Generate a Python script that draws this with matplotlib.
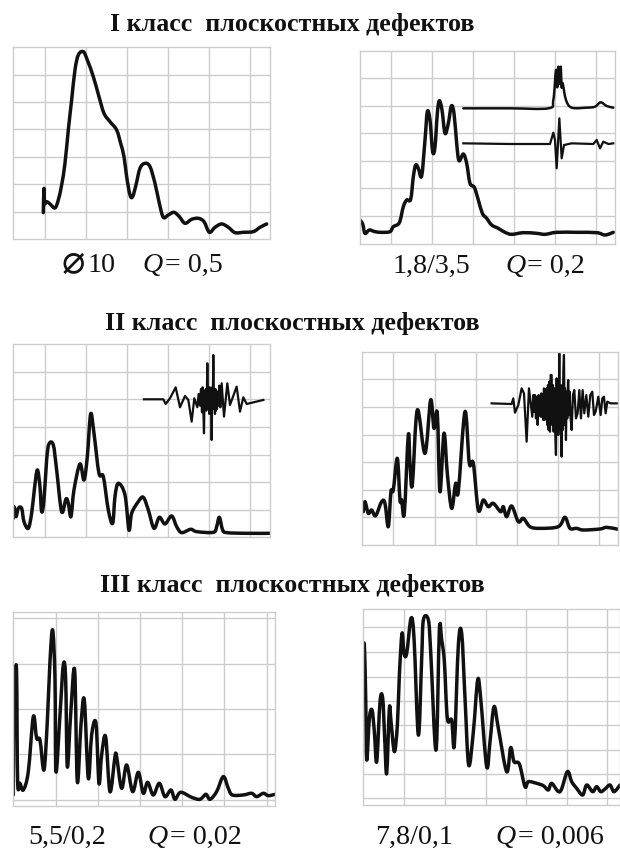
import matplotlib
matplotlib.use("Agg")
import matplotlib.pyplot as plt
from matplotlib.path import Path
from matplotlib.patches import PathPatch

W, H = 620, 851
SERIF = ["Liberation Serif", "DejaVu Sans"]

# Step 1: Values (arbitrary amplitude / time units per panel)
p1_x = [90,92,94,100,110,125,135,145,155,165,175,185,195,210,222,240,257,272,290,310,322,332,340,350,358,368,380,395,410,425,438,450,465,482,498,515,535,555,572,588,605,625,645,665,690,720,740,760]
p1_y = [80,153,108,113,106,94,118,163,228,328,418,508,553,563,538,488,428,378,353,328,288,248,188,133,128,163,213,228,218,168,108,66,73,81,68,48,60,63,53,21,36,46,36,20,21,23,36,46]

p2_x = [0,8,15,28,45,65,90,100,118,130,140,152,160,167,175,185,195,202,210,218,225,232,238,246,255,265,274,282,290,297,310,320,330,343,355,367,380,395,415,435,455,490,530,555,590,650,710,735,760]
p2_y = [72,60,32,42,37,35,37,52,64,112,132,134,202,237,227,204,312,397,372,277,292,392,430,402,332,362,414,392,302,250,270,242,182,170,132,92,77,57,47,35,29,34,32,29,35,35,34,27,35]
p2a_x = [310,450,565,580,588,592,595,599,602,605,608,618,635,680,705,722,740,760]
p2a_y = [407,407,407,432,522,470,532,480,532,470,482,432,409,409,412,425,414,409]
p2b_x = [310,450,570,580,585,590,598,605,612,635,700,710,720,730,745,760]
p2b_y = [302,300,300,334,312,227,377,257,297,302,300,312,287,307,300,302]

p3_x = [0,2,8,15,25,32,45,55,63,72,80,85,92,100,107,120,130,145,158,165,173,182,200,212,222,232,242,257,270,285,298,305,315,335,347,355,375,390,405,422,438,455,475,490,505,532,550,600,610,618,628,640,700,770]
p3_y = [57,92,62,87,87,47,27,72,142,202,152,77,112,232,280,277,202,77,115,102,62,142,220,172,242,370,312,192,182,82,42,122,162,127,22,72,107,120,82,27,60,40,64,32,14,24,17,15,32,60,22,14,12,12]
p3a_x = [392,450,457,470,487,500,515,525,535,543,552,556,560,563,566,568,570,572,574,576,578,579,581,582,584,586,588,589,591,592,594,595,597,598,600,602,603,605,606,608,609,611,612,615,618,621,625,632,642,650,670,680,690,700,750]
p3a_y = [414,414,400,417,450,390,424,412,347,417,390,430,395,445,375,450,385,312,440,385,445,380,450,522,385,445,370,450,380,445,375,292,450,385,547,385,440,370,445,380,440,385,435,395,455,390,462,362,462,397,452,377,420,400,412]

p4_x = [3,8,18,28,40,58,68,78,86,93,105,113,118,126,138,143,150,165,188,205,215,225,233,245,255,268,280,288,308,321,333,348,363,378,393,415,423,433,448,468,483,503,533,588,608,623,643,663,713,733,768]
p4_y = [100,130,95,105,88,130,125,55,160,165,260,135,135,95,330,245,180,405,275,435,350,395,160,335,215,110,185,160,400,245,245,105,135,115,125,100,115,85,117,70,80,55,50,55,83,50,50,45,48,53,47]
p4a_x = [388,448,453,458,468,478,485,493,500,510,513,516,518,521,524,526,529,531,533,535,537,539,541,543,545,547,549,551,553,555,557,559,561,563,565,568,570,572,574,576,578,581,583,585,587,588,590,591,593,594,596,598,600,601,603,605,607,608,610,611,613,615,617,618,620,622,625,628,632,636,641,646,651,656,661,666,672,678,684,690,695,700,708,715,720,725,730,735,745,768]
p4a_y = [425,423,440,397,420,470,455,310,470,385,450,400,450,380,445,360,450,395,440,385,455,385,450,375,470,375,460,390,470,360,480,345,490,340,510,510,360,480,340,470,360,270,500,350,490,330,470,575,350,480,350,265,480,345,520,570,360,470,380,315,460,380,490,495,390,460,380,345,450,465,380,395,465,380,465,395,450,385,450,460,390,400,445,390,440,445,395,430,425,425]

p5_x = [0,2,6,10,13,20,30,45,60,70,80,92,102,110,118,125,128,140,150,157,162,172,184,192,203,213,225,235,248,257,265,277,290,305,310,325,340,358,375,390,403,420,438,455,473,485,502,535,560,578,590,610,630,645,657,690,715,730,750,765,786]
p5_y = [34,324,404,394,74,69,49,104,269,204,199,109,254,434,529,384,104,274,424,384,119,274,409,74,244,319,84,214,249,69,154,209,44,149,149,54,124,44,102,39,72,34,69,29,49,21,42,27,21,36,21,44,89,54,34,34,39,29,39,32,36]

p6_x = [2,5,9,12,20,28,35,42,52,60,66,72,80,85,95,104,110,118,124,132,145,154,167,177,182,197,204,220,230,237,245,254,267,275,287,297,307,318,332,345,354,372,382,394,407,432,444,454,470,487,497,522,542,557,567,592,614,627,642,660,672,690,702,714,727,742,754,772]
p6_y = [450,480,320,135,260,285,220,130,310,320,200,95,290,250,160,240,390,515,455,455,560,500,210,440,555,555,460,165,525,495,430,260,255,180,480,515,320,120,220,375,320,115,190,295,230,100,172,130,123,55,70,65,58,45,65,40,100,70,50,30,60,40,55,40,48,60,40,60]

titles = ["I класс  плоскостных дефектов", "II класс  плоскостных дефектов", "III класс  плоскостных дефектов"]
sizes = ["10", "1,8/3,5", "5,5/0,2", "7,8/0,1"]
q_values = ["= 0,5", "= 0,2", "= 0,02", "= 0,006"]

# Step 2: Panels: pixel box, grid positions, curves
panels = [
    dict(box=(13.3, 47.3, 256.7, 192), xlim=770, ylim=576,
         vg=[95,218,340,463,586,710], hg=[82,165,247,330,411,494],
         main=(p1_x, p1_y), extra=[], burst=[]),
    dict(box=(360, 51, 255, 193), xlim=765, ylim=579,
         vg=[93,216,340,463,585,708], hg=[85,167,250,332,415,497],
         main=(p2_x, p2_y), extra=[(p2a_x, p2a_y)], burst=[(p2b_x, p2b_y)]),
    dict(box=(13.3, 344.3, 256.7, 193), xlim=770, ylim=579,
         vg=[96,218,340,463,586,710], hg=[82,165,247,332,414,497],
         main=(p3_x, p3_y), extra=[], burst=[(p3a_x, p3a_y)]),
    dict(box=(362.3, 351.7, 256, 193.3), xlim=768, ylim=580,
         vg=[93,217,340,463,586,709], hg=[83,165,248,331,415,497],
         main=(p4_x, p4_y), extra=[], burst=[(p4a_x, p4a_y)]),
    dict(box=(13.3, 612.3, 262, 194), xlim=786, ylim=582,
         vg=[127,253,379,505,632,760], hg=[19,156,292,427,564],
         main=(p5_x, p5_y), extra=[], burst=[]),
    dict(box=(362.7, 609, 257.3, 196), xlim=772, ylim=588,
         vg=[124,247,369,490,612,734], hg=[22,92,165,240,312,385,460,533],
         main=(p6_x, p6_y), extra=[], burst=[]),
]

# curve through the read points, so peaks come out round like the scope trace
def trace(ax, xs, ys, lw):
    verts = [(xs[0], ys[0])]
    codes = [Path.MOVETO]
    n = len(xs)
    for i in range(n - 1):
        a = max(i - 1, 0)
        b = min(i + 2, n - 1)
        verts.append((xs[i] + (xs[i + 1] - xs[a]) / 6, ys[i] + (ys[i + 1] - ys[a]) / 6))
        verts.append((xs[i + 1] - (xs[b] - xs[i]) / 6, ys[i + 1] - (ys[b] - ys[i]) / 6))
        verts.append((xs[i + 1], ys[i + 1]))
        codes += [Path.CURVE4] * 3
    ax.add_patch(PathPatch(Path(verts, codes), fill=False, edgecolor="#111111", lw=lw, capstyle="round", joinstyle="round"))

fig = plt.figure(figsize=(W / 100, H / 100), dpi=100, facecolor="white")

for p in panels:
    left, top, w, h = p["box"]
    ax = fig.add_axes([left / W, 1 - (top + h) / H, w / W, h / H])
    ax.set_xlim(0, p["xlim"])
    ax.set_ylim(0, p["ylim"])
    ax.set_xticks(p["vg"])
    ax.set_yticks(p["hg"])
    ax.tick_params(length=0, labelbottom=False, labelleft=False)
    ax.grid(True, color="#cccccc", linewidth=1.0)
    ax.set_axisbelow(True)
    for s in ax.spines.values():
        s.set_color("#cccccc")
        s.set_linewidth(1.0)
    trace(ax, p["main"][0], p["main"][1], 2.5)
    for ex in p["extra"]:
        trace(ax, ex[0], ex[1], 1.8)
    for ex in p["burst"]:
        ax.plot(ex[0], ex[1], color="#111111", lw=1.6, solid_joinstyle="round")

# Step 3: Text
def put(x, y, s, size=20.2, **kw):
    fig.text(x / W, 1 - y / H, s, fontsize=size, family=SERIF, va="baseline", ha="left", color="#111111", **kw)

put(110, 31, titles[0], size=18.7, fontweight="bold")
put(105, 330, titles[1], size=18.7, fontweight="bold")
put(100, 592, titles[2], size=18.7, fontweight="bold")

put(62, 273, "\u2300", size=28)
cap_pos = [(87, 142, 165, 272), (392, 505, 527, 273), (28, 147, 170, 844), (375, 495, 518, 844)]
for s, q, c in zip(sizes, q_values, cap_pos):
    put(c[0], c[3], s)
    put(c[1], c[3], "Q", style="italic")
    put(c[2], c[3], q)

fig.savefig("out.png", dpi=100)
